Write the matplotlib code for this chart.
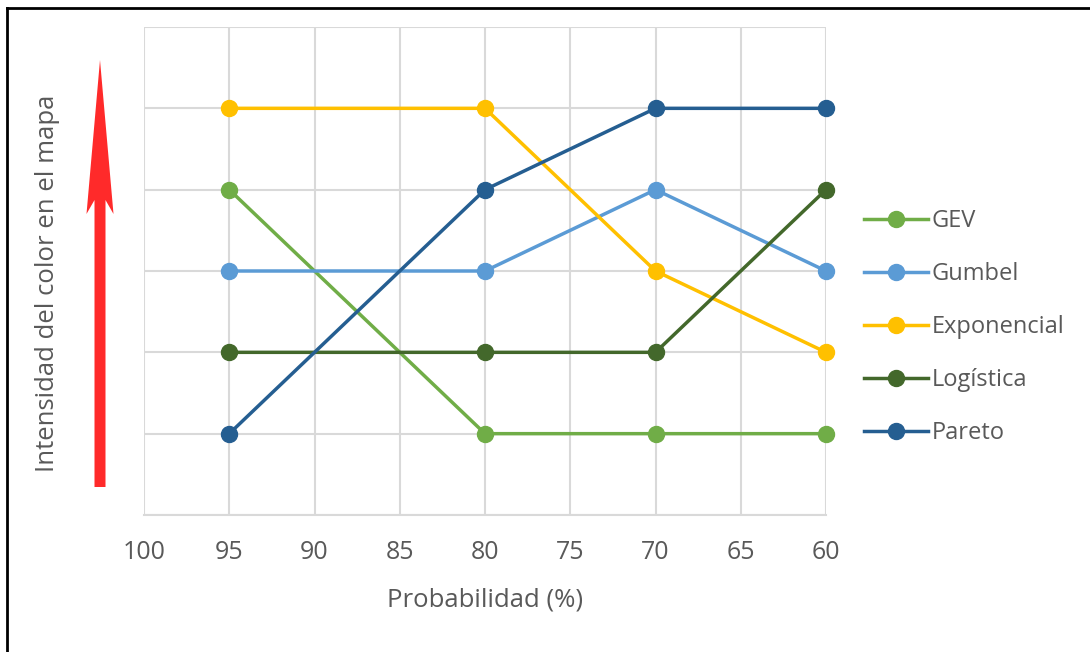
import matplotlib
matplotlib.use("Agg")
import matplotlib.pyplot as plt
from matplotlib.patches import Polygon
from matplotlib.lines import Line2D

# Data
x_prob = [95, 80, 70, 60]
series_names = ["GEV", "Gumbel", "Exponencial", "Logística", "Pareto"]
gev = [4, 1, 1, 1]
gumbel = [3, 3, 4, 3]
exponencial = [5, 5, 3, 2]
logistica = [2, 2, 2, 4]
pareto = [1, 4, 5, 5]
x_ticks = [100, 95, 90, 85, 80, 75, 70, 65, 60]
colors = ["#70AD47", "#5B9BD5", "#FFC000", "#43682B", "#255E91"]

W, H = 1090, 652
fig = plt.figure(figsize=(W / 100, H / 100), dpi=100)
fam = ["Open Sans", "DejaVu Sans"]
txt_color = "#595959"

ax = fig.add_axes([144 / W, 1 - 515 / H, (826 - 144) / W, (515 - 27) / H])
ax.set_xlim(100, 60)
ax.set_ylim(0, 6)
ax.set_xticks(x_ticks)
ax.set_xticklabels([str(t) for t in x_ticks], fontfamily=fam, fontsize=18, color=txt_color)
ax.set_yticks(range(0, 7))
ax.set_yticklabels([])
ax.tick_params(axis="both", length=0, pad=18)
ax.grid(True, color="#D9D9D9", linewidth=1.5)
ax.set_axisbelow(True)
for s in ["left", "right", "top"]:
    ax.spines[s].set_visible(False)
ax.spines["bottom"].set_color("#D9D9D9")
ax.spines["bottom"].set_linewidth(1.5)

all_series = [gev, gumbel, exponencial, logistica, pareto]
handles = []
for name, vals, c in zip(series_names, all_series, colors):
    h, = ax.plot(x_prob, vals, color=c, linewidth=2.5, marker="o", markersize=11.5,
                 label=name, clip_on=False, zorder=3)
    handles.append(h)

ax.set_xlabel("Probabilidad (%)", fontfamily=fam, fontsize=18.5, color=txt_color, labelpad=16)

leg = fig.legend(handles=handles, labels=series_names, loc="center left",
                 bbox_to_anchor=(864 / W, 1 - 327 / H), frameon=False,
                 prop={"family": fam, "size": 17}, labelspacing=1.23,
                 handlelength=2.7, handletextpad=0.15, borderaxespad=0, borderpad=0)
for t in leg.get_texts():
    t.set_color(txt_color)

# Y label (figure text)
fig.text(48 / W, 1 - 283 / H, "Intensidad del color en el mapa", rotation=90,
         ha="center", va="center", fontfamily=fam, fontsize=18.5, color=txt_color)

# Red arrow (decoration) in pixel coords -> figure fraction
def P(x, y):
    return (x / W, 1 - y / H)

cx = 100
arrow_pts = [P(cx - 5.5, 487), P(cx - 5.5, 200), P(cx - 13.5, 214), P(cx, 60),
             P(cx + 13.5, 214), P(cx + 5.5, 200), P(cx + 5.5, 487)]
fig.patches.append(Polygon(arrow_pts, closed=True, transform=fig.transFigure,
                           facecolor="#FF2A2A", edgecolor="none", figure=fig))

# Border (top and left visible)
fig.add_artist(Line2D([7 / W, 1.0], [1 - 8 / H, 1 - 8 / H], transform=fig.transFigure,
                      color="#000000", linewidth=2))
fig.add_artist(Line2D([7 / W, 7 / W], [0, 1 - 8 / H], transform=fig.transFigure,
                      color="#000000", linewidth=2))

fig.savefig("out.png", dpi=100)
